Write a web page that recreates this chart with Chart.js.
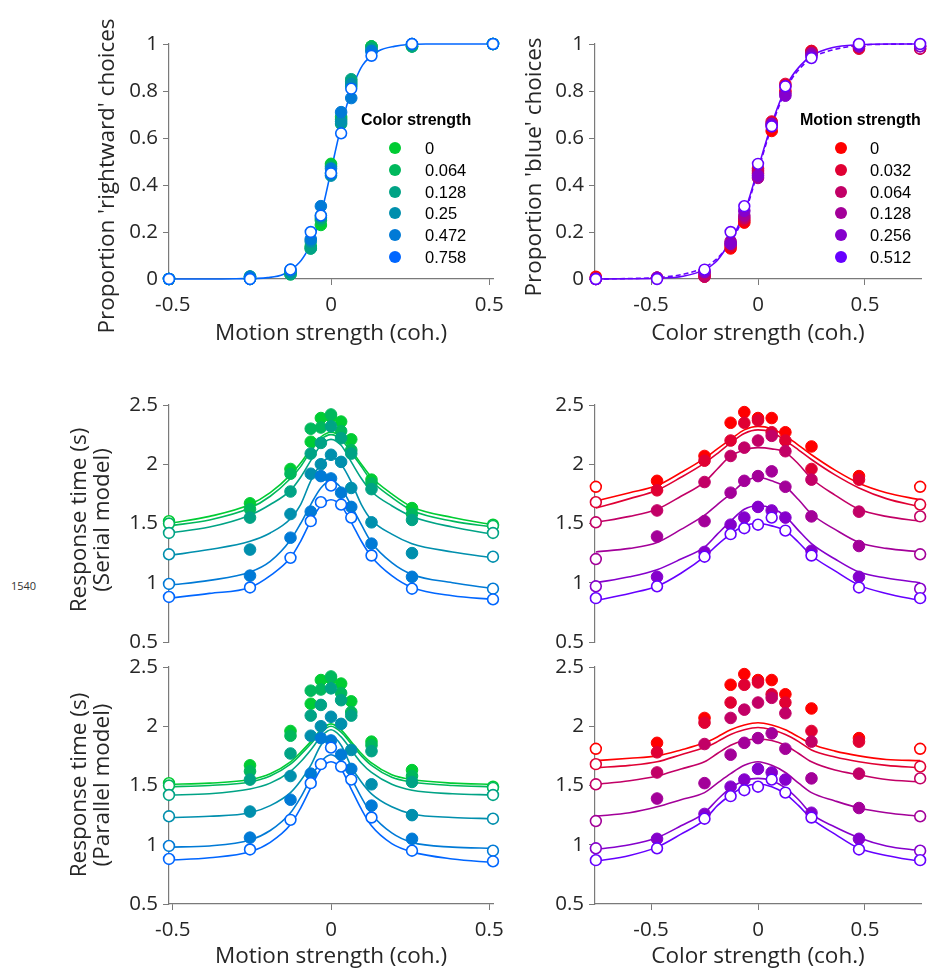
<!DOCTYPE html>
<html>
<head>
<meta charset="utf-8">
<script src="https://cdn.jsdelivr.net/npm/chart.js@4.4.1/dist/chart.umd.min.js"></script>
<style>
  body { margin: 0; background: #fff; }
  #wrap { position: relative; width: 928px; height: 973px; overflow: hidden; }
  #wrap canvas { position: absolute; }
  .legend { position: absolute; font-family: "Liberation Sans", Arial, sans-serif; color: #000; }
  .legend .ttl { position: absolute; white-space: nowrap; font-weight: bold; font-size: 16px; line-height: 18px; }
  .legend .row { position: absolute; white-space: nowrap; font-size: 16.5px; line-height: 18px; }
  .legend .dot { position: absolute; width: 12px; height: 12px; border-radius: 50%; }
  .stray { position: absolute; left: 11px; top: 578px; font: 11px "Open Sans", sans-serif; color: #333; }
</style>
</head>
<body>
<div id="wrap">
  <div class="stray">1540</div>
</div>
<script>
// x positions of the conditions
const motionCoh = [-0.512, -0.256, -0.128, -0.064, -0.032, 0, 0.032, 0.064, 0.128, 0.256, 0.512]
const colorCoh = [-0.758, -0.472, -0.25, -0.128, -0.064, 0, 0.064, 0.128, 0.25, 0.472, 0.758]

const colorLevels = ['0', '0.064', '0.128', '0.25', '0.472', '0.758']
const motionLevels = ['0', '0.032', '0.064', '0.128', '0.256', '0.512']
const greenBlue = ['rgb(0,204,51)', 'rgb(0,184,92)', 'rgb(0,163,133)', 'rgb(0,143,173)', 'rgb(0,122,214)', 'rgb(0,102,255)']
const redPurple = ['rgb(255,0,0)', 'rgb(224,0,51)', 'rgb(194,0,102)', 'rgb(163,0,153)', 'rgb(133,0,204)', 'rgb(102,0,255)']

const probTicks = [0, 0.2, 0.4, 0.6, 0.8, 1]
const rtTicks = [0.5, 1, 1.5, 2, 2.5]
const cohTicks = [-0.5, 0, 0.5]

// proportion 'rightward' choices, one row per color strength
const pRightward = [
    [0, 0.01, 0.02, 0.14, 0.23, 0.49, 0.68, 0.82, 0.99, 0.99, 1],
    [0, 0.01, 0.03, 0.13, 0.25, 0.48, 0.69, 0.84, 0.99, 0.99, 1],
    [0, 0, 0.02, 0.13, 0.26, 0.45, 0.66, 0.85, 0.98, 0.99, 1],
    [0, 0, 0.03, 0.16, 0.27, 0.44, 0.67, 0.83, 0.97, 1, 1],
    [0, 0.01, 0.04, 0.17, 0.31, 0.47, 0.71, 0.77, 0.97, 1, 1],
    [0, 0, 0.04, 0.2, 0.27, 0.45, 0.62, 0.81, 0.95, 1, 1]
]
// proportion 'blue' choices, one row per motion strength
const pBlue = [
    [0.01, 0.005, 0.01, 0.13, 0.24, 0.45, 0.63, 0.8, 0.97, 0.99, 0.98],
    [0.005, 0.005, 0.02, 0.14, 0.25, 0.47, 0.67, 0.83, 0.97, 0.98, 0.99],
    [0, 0.005, 0.01, 0.15, 0.26, 0.46, 0.66, 0.82, 0.96, 0.99, 0.98],
    [0, 0.005, 0.03, 0.16, 0.27, 0.43, 0.65, 0.79, 0.96, 0.99, 0.99],
    [0, 0.005, 0.03, 0.15, 0.29, 0.44, 0.66, 0.78, 0.95, 0.99, 0.99],
    [0, 0, 0.04, 0.2, 0.31, 0.49, 0.65, 0.82, 0.94, 1, 1]
]

// mean response times (s)
const rtMotion = [
    [1.52, 1.67, 1.96, 2.19, 2.39, 2.4, 2.36, 2.21, 1.87, 1.63, 1.49],
    [1.5, 1.62, 1.92, 2.3, 2.31, 2.42, 2.28, 2.12, 1.84, 1.58, 1.48],
    [1.42, 1.55, 1.77, 2.09, 2.18, 2.32, 2.22, 2.09, 1.79, 1.53, 1.42],
    [1.24, 1.28, 1.58, 1.92, 2.0, 2.08, 2.02, 1.8, 1.51, 1.25, 1.22],
    [0.99, 1.06, 1.38, 1.6, 1.9, 1.88, 1.76, 1.64, 1.33, 1.05, 0.95],
    [0.88, 0.96, 1.21, 1.52, 1.68, 1.82, 1.66, 1.55, 1.23, 0.95, 0.86]
]
const rtColor = [
    [1.81, 1.86, 2.07, 2.35, 2.44, 2.39, 2.39, 2.27, 2.15, 1.9, 1.81],
    [1.68, 1.78, 2.03, 2.2, 2.35, 2.37, 2.27, 2.2, 1.96, 1.87, 1.66],
    [1.51, 1.61, 1.85, 2.07, 2.14, 2.2, 2.24, 2.11, 1.87, 1.6, 1.56],
    [1.2, 1.39, 1.52, 1.76, 1.86, 1.9, 1.94, 1.81, 1.56, 1.31, 1.24],
    [0.97, 1.05, 1.26, 1.49, 1.55, 1.64, 1.61, 1.55, 1.27, 1.05, 0.95],
    [0.87, 0.97, 1.22, 1.41, 1.46, 1.49, 1.55, 1.44, 1.23, 0.96, 0.87]
]

// model fits
const fitMotionChoiceX = [-0.512, -0.4, -0.3, -0.2, -0.15, -0.1, -0.075, -0.05, -0.025, 0, 0.025, 0.05, 0.075, 0.1, 0.15, 0.2, 0.3, 0.4, 0.512]
const fitRightward = [0, 0, 0.001, 0.006, 0.02, 0.07, 0.12, 0.19, 0.31, 0.46, 0.61, 0.74, 0.84, 0.91, 0.97, 0.99, 1, 1, 1]
const fitColorChoiceX = [-0.758, -0.6, -0.472, -0.35, -0.25, -0.2, -0.15, -0.1, -0.05, 0, 0.05, 0.1, 0.15, 0.2, 0.25, 0.35, 0.472, 0.6, 0.758]
const fitBlue = [0, 0.001, 0.003, 0.012, 0.04, 0.07, 0.13, 0.21, 0.32, 0.47, 0.62, 0.75, 0.85, 0.91, 0.95, 0.985, 0.997, 1, 1]
const fitBlueAlt = [0, 0.002, 0.006, 0.02, 0.05, 0.08, 0.13, 0.2, 0.31, 0.46, 0.61, 0.74, 0.84, 0.9, 0.94, 0.975, 0.994, 0.999, 1]

const fitMotionX = [-0.512, -0.384, -0.256, -0.192, -0.128, -0.096, -0.064, -0.032, 0, 0.032, 0.064, 0.096, 0.128, 0.192, 0.256, 0.384, 0.512]
const serialMotion = [
    [1.5, 1.56, 1.66, 1.76, 1.91, 2.01, 2.13, 2.23, 2.27, 2.23, 2.12, 2.0, 1.89, 1.75, 1.64, 1.55, 1.49],
    [1.48, 1.53, 1.63, 1.73, 1.88, 1.98, 2.11, 2.21, 2.25, 2.21, 2.1, 1.98, 1.86, 1.72, 1.61, 1.52, 1.47],
    [1.42, 1.47, 1.57, 1.66, 1.78, 1.89, 2.03, 2.16, 2.21, 2.16, 2.02, 1.88, 1.77, 1.65, 1.56, 1.47, 1.41],
    [1.23, 1.28, 1.35, 1.42, 1.54, 1.66, 1.86, 2.0, 2.06, 2.0, 1.85, 1.66, 1.53, 1.41, 1.33, 1.26, 1.21],
    [0.98, 1.02, 1.09, 1.18, 1.36, 1.5, 1.66, 1.8, 1.86, 1.8, 1.65, 1.49, 1.34, 1.17, 1.07, 1.0, 0.95],
    [0.87, 0.91, 0.96, 1.06, 1.21, 1.35, 1.52, 1.65, 1.7, 1.65, 1.51, 1.35, 1.22, 1.06, 0.96, 0.89, 0.86]
]
const parallelMotion = [
    [1.51, 1.52, 1.55, 1.6, 1.7, 1.78, 1.87, 1.97, 2.02, 1.97, 1.87, 1.77, 1.69, 1.59, 1.55, 1.52, 1.51],
    [1.49, 1.5, 1.53, 1.58, 1.68, 1.76, 1.85, 1.95, 2.0, 1.95, 1.85, 1.75, 1.67, 1.57, 1.53, 1.5, 1.49],
    [1.42, 1.43, 1.47, 1.52, 1.62, 1.7, 1.8, 1.91, 1.97, 1.91, 1.8, 1.69, 1.61, 1.51, 1.46, 1.43, 1.42],
    [1.23, 1.24, 1.27, 1.33, 1.44, 1.54, 1.67, 1.84, 1.92, 1.84, 1.66, 1.53, 1.43, 1.32, 1.26, 1.23, 1.22],
    [0.98, 0.99, 1.04, 1.12, 1.27, 1.4, 1.56, 1.7, 1.76, 1.7, 1.56, 1.4, 1.26, 1.1, 1.02, 0.98, 0.97],
    [0.87, 0.89, 0.94, 1.02, 1.17, 1.31, 1.48, 1.64, 1.7, 1.64, 1.47, 1.3, 1.16, 1.01, 0.94, 0.88, 0.85]
]

const fitColorX = [-0.758, -0.6, -0.472, -0.36, -0.25, -0.19, -0.128, -0.064, 0, 0.064, 0.128, 0.19, 0.25, 0.36, 0.472, 0.6, 0.758]
const serialColor = [
    [1.69, 1.76, 1.82, 1.93, 2.05, 2.13, 2.21, 2.29, 2.32, 2.3, 2.24, 2.16, 2.08, 1.95, 1.84, 1.76, 1.7],
    [1.63, 1.71, 1.78, 1.89, 2.01, 2.09, 2.18, 2.26, 2.29, 2.27, 2.2, 2.12, 2.04, 1.91, 1.8, 1.71, 1.64],
    [1.51, 1.56, 1.62, 1.73, 1.85, 1.96, 2.07, 2.12, 2.14, 2.13, 2.1, 2.0, 1.88, 1.74, 1.62, 1.56, 1.52],
    [1.26, 1.29, 1.34, 1.45, 1.57, 1.66, 1.75, 1.85, 1.89, 1.86, 1.81, 1.7, 1.58, 1.45, 1.34, 1.29, 1.26],
    [1.0, 1.05, 1.11, 1.2, 1.3, 1.41, 1.52, 1.62, 1.65, 1.63, 1.56, 1.44, 1.33, 1.2, 1.09, 1.04, 1.0],
    [0.85, 0.91, 0.97, 1.08, 1.22, 1.32, 1.41, 1.48, 1.5, 1.48, 1.44, 1.34, 1.23, 1.1, 0.98, 0.91, 0.85]
]
const parallelColor = [
    [1.71, 1.73, 1.75, 1.8, 1.86, 1.91, 1.97, 2.01, 2.03, 2.01, 1.97, 1.91, 1.85, 1.79, 1.75, 1.72, 1.71],
    [1.65, 1.67, 1.7, 1.76, 1.82, 1.87, 1.93, 1.97, 1.99, 1.97, 1.93, 1.87, 1.8, 1.74, 1.7, 1.67, 1.65],
    [1.51, 1.54, 1.58, 1.64, 1.7, 1.77, 1.84, 1.88, 1.89, 1.88, 1.84, 1.77, 1.7, 1.63, 1.59, 1.55, 1.53],
    [1.24, 1.27, 1.32, 1.38, 1.44, 1.52, 1.6, 1.67, 1.7, 1.67, 1.61, 1.52, 1.44, 1.37, 1.31, 1.27, 1.24],
    [0.96, 1.0, 1.06, 1.16, 1.27, 1.38, 1.48, 1.54, 1.56, 1.54, 1.48, 1.38, 1.26, 1.15, 1.06, 0.99, 0.95],
    [0.86, 0.91, 0.98, 1.09, 1.21, 1.33, 1.42, 1.49, 1.51, 1.49, 1.43, 1.33, 1.22, 1.09, 0.97, 0.91, 0.86]
]

const wrap = document.getElementById('wrap')
const FONT = '"Open Sans", "Noto Sans", sans-serif'
const AXIS = '#7a7a7a'
const INK = '#262626'

// y-axis label drawn rotated, centred on a given page position
const yLabelPlugin = {
    id: 'yLabel',
    afterDraw(chart, args, opts) {
        if (!opts.lines) return
        const ctx = chart.ctx
        ctx.save()
        ctx.font = `${opts.size}px ${FONT}`
        ctx.fillStyle = INK
        ctx.textAlign = 'center'
        ctx.textBaseline = 'middle'
        opts.lines.forEach((line, i) => {
            ctx.save()
            ctx.translate(opts.x + i * opts.gap, opts.y)
            ctx.rotate(-Math.PI / 2)
            ctx.fillText(line, 0, 0)
            ctx.restore()
        })
        ctx.restore()
    }
}

function pointDatasets(xs, rows, colors) {
    return rows.map((ys, i) => {
        const open = xs.map((x, j) => i === rows.length - 1 || j === 0 || j === xs.length - 1)
        return {
            data: xs.map((x, j) => ({ x, y: ys[j] })),
            showLine: false,
            pointRadius: open.map(o => (o ? 5.4 : 5.8)),
            pointBackgroundColor: open.map(o => (o ? '#fff' : colors[i])),
            pointBorderColor: colors[i],
            pointBorderWidth: open.map(o => (o ? 1.6 : 1)),
            clip: false,
            order: rows.length - i
        }
    })
}

function fitDatasets(xs, rows, colors, dashes) {
    return rows.map((ys, i) => ({
        data: xs.map((x, j) => ({ x, y: ys[j] })),
        showLine: true,
        pointRadius: 0,
        borderColor: colors[i],
        borderWidth: 1.6,
        borderDash: dashes ? dashes[i] : [],
        cubicInterpolationMode: 'monotone',
        clip: false,
        order: 20 + i
    }))
}

function makePanel(p) {
    const canvas = document.createElement('canvas')
    canvas.width = p.w
    canvas.height = p.h
    canvas.style.left = p.left + 'px'
    canvas.style.top = p.top + 'px'
    wrap.append(canvas)

    const tickFont = { family: FONT, size: 20.5 }
    const titleFont = { family: FONT, size: 22.5, lineHeight: 1.1 }
    const yLab = p.yLabel
        ? { lines: p.yLabel.lines, x: p.yLabel.x - p.left, y: p.yLabel.y - p.top, gap: 23, size: 22.5 }
        : {}

    new Chart(canvas, {
        type: 'scatter',
        data: { datasets: [...p.fits, ...p.points] },
        options: {
            responsive: false,
            animation: false,
            events: [],
            layout: { padding: p.pad },
            plugins: { legend: { display: false }, tooltip: { enabled: false }, yLabel: yLab },
            scales: {
                x: {
                    type: 'linear',
                    display: p.showX,
                    min: p.xMin,
                    max: p.xMax,
                    afterBuildTicks: s => { s.ticks = cohTicks.map(v => ({ value: v })) },
                    afterFit: s => { s.height = p.xH },
                    ticks: { font: tickFont, color: INK, padding: 8, maxRotation: 0, callback: v => String(v) },
                    grid: { drawOnChartArea: false, drawTicks: true, tickLength: 6, tickColor: AXIS },
                    border: { color: AXIS, width: 1.2 },
                    title: {
                        display: !!p.xTitle,
                        text: p.xTitle,
                        font: titleFont,
                        color: INK,
                        padding: { top: 0, bottom: p.xTitlePad }
                    }
                },
                y: {
                    type: 'linear',
                    min: p.yMin,
                    max: p.yMax,
                    afterBuildTicks: s => { s.ticks = p.yTicks.map(v => ({ value: v })) },
                    afterFit: s => { s.width = p.yW },
                    ticks: { font: tickFont, color: INK, padding: 5, callback: v => String(v) },
                    grid: { drawOnChartArea: false, drawTicks: true, tickLength: 6, tickColor: AXIS },
                    border: { color: AXIS, width: 1.2 }
                }
            }
        },
        plugins: [yLabelPlugin]
    })
}

function makeLegend(left, title, labels, colors, dotX, textX) {
    const box = document.createElement('div')
    box.className = 'legend'
    box.style.left = left + 'px'
    box.style.top = '0px'
    let html = `<div class="ttl" style="left:0px;top:111px">${title}</div>`
    labels.forEach((lab, i) => {
        const cy = 148.3 + i * 21.7
        html += `<div class="dot" style="left:${dotX - 6}px;top:${cy - 6}px;background:${colors[i]}"></div>`
        html += `<div class="row" style="left:${textX}px;top:${cy - 9}px">${lab}</div>`
    })
    box.innerHTML = html
    wrap.append(box)
}

const leftCol = { left: 40, w: 480, yW: 129, xMin: -0.512, xMax: 0.512 }
const rightCol = { left: 480, w: 448, yW: 115, xMin: -0.762, xMax: 0.762 }
const topRow = { top: 0, h: 360, xH: 81, yMin: 0, yMax: 1, yTicks: probTicks, showX: true }
const midRow = { top: 380, h: 280, xH: 0, yMin: 0.5, yMax: 2.5, yTicks: rtTicks, showX: false }
const botRow = { top: 645, h: 328, xH: 69, yMin: 0.5, yMax: 2.5, yTicks: rtTicks, showX: true }

makePanel({
    ...leftCol, ...topRow,
    pad: { top: 44, right: 27, bottom: 0, left: 0 },
    xTitle: 'Motion strength (coh.)', xTitlePad: 14.5,
    yLabel: { lines: ["Proportion 'rightward' choices"], x: 108, y: 176 },
    fits: fitDatasets(fitMotionChoiceX, [fitRightward], [greenBlue[5]]),
    points: pointDatasets(motionCoh, pRightward, greenBlue)
})
makePanel({
    ...rightCol, ...topRow,
    pad: { top: 44, right: 6, bottom: 0, left: 0 },
    xTitle: 'Color strength (coh.)', xTitlePad: 14.5,
    yLabel: { lines: ["Proportion 'blue' choices"], x: 535, y: 167 },
    fits: fitDatasets(fitColorChoiceX, [fitBlue, fitBlueAlt], [redPurple[5], redPurple[5]], [[], [5, 3]]),
    points: pointDatasets(colorCoh, pBlue, redPurple)
})
makePanel({
    ...leftCol, ...midRow,
    pad: { top: 25, right: 27, bottom: 18, left: 0 },
    yLabel: { lines: ['Response time (s)', '(Serial model)'], x: 80, y: 520 },
    fits: fitDatasets(fitMotionX, serialMotion, greenBlue),
    points: pointDatasets(motionCoh, rtMotion, greenBlue)
})
makePanel({
    ...rightCol, ...midRow,
    pad: { top: 25, right: 6, bottom: 18, left: 0 },
    fits: fitDatasets(fitColorX, serialColor, redPurple),
    points: pointDatasets(colorCoh, rtColor, redPurple)
})
makePanel({
    ...leftCol, ...botRow,
    pad: { top: 22, right: 27, bottom: 0, left: 0 },
    xTitle: 'Motion strength (coh.)', xTitlePad: 4.5,
    yLabel: { lines: ['Response time (s)', '(Parallel model)'], x: 80, y: 785 },
    fits: fitDatasets(fitMotionX, parallelMotion, greenBlue),
    points: pointDatasets(motionCoh, rtMotion, greenBlue)
})
makePanel({
    ...rightCol, ...botRow,
    pad: { top: 22, right: 6, bottom: 0, left: 0 },
    xTitle: 'Color strength (coh.)', xTitlePad: 4.5,
    fits: fitDatasets(fitColorX, parallelColor, redPurple),
    points: pointDatasets(colorCoh, rtColor, redPurple)
})

makeLegend(361, 'Color strength', colorLevels, greenBlue, 34, 64)
makeLegend(800, 'Motion strength', motionLevels, redPurple, 41, 70)
</script>
</body>
</html>
